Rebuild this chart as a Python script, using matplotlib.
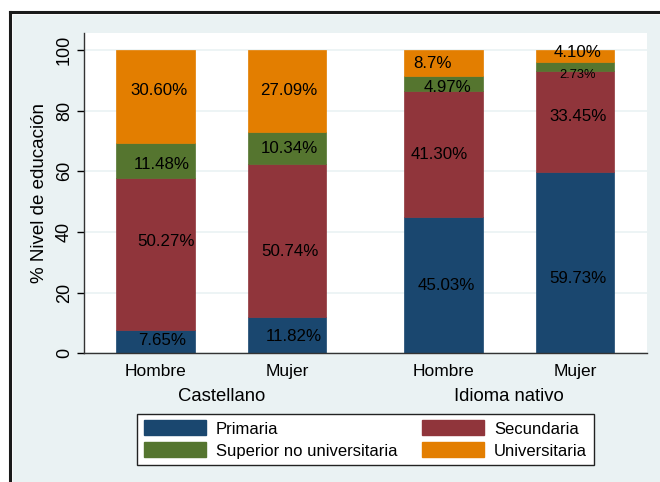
import matplotlib.pyplot as plt
import matplotlib.patches as mpatches
from matplotlib.lines import Line2D
import numpy as np

plt.rcParams['font.family'] = ['Liberation Sans', 'DejaVu Sans']

grupos = ['Castellano', 'Idioma nativo']
sexos = ['Hombre', 'Mujer', 'Hombre', 'Mujer']
niveles = ['Primaria', 'Secundaria', 'Superior no universitaria', 'Universitaria']

primaria = [7.65, 11.82, 45.03, 59.73]
secundaria = [50.27, 50.74, 41.30, 33.45]
superior = [11.48, 10.34, 4.97, 2.73]
universitaria = [30.60, 27.09, 8.70, 4.10]

textos = [
    ['7.65%', '11.82%', '45.03%', '59.73%'],
    ['50.27%', '50.74%', '41.30%', '33.45%'],
    ['11.48%', '10.34%', '4.97%', '2.73%'],
    ['30.60%', '27.09%', '8.7%', '4.10%'],
]
# altura de cada etiqueta
pos_etiqueta = [
    [4.2, 5.7, 22.3, 24.5],
    [36.8, 33.5, 65.4, 78.0],
    [62.4, 67.4, 87.5, 91.8],
    [86.5, 86.5, 95.7, 99.3],
]
desp_etiqueta = [
    [0.05, 0.05, 0.02, 0.02],
    [0.08, 0.02, -0.03, 0.02],
    [0.05, 0.02, 0.03, 0.02],
    [0.03, 0.01, -0.08, 0.02],
]

colores = ['#1a476f', '#90353b', '#55752f', '#e37e00']
fondo = '#eaf2f3'

W, H = 660, 482
fig = plt.figure(figsize=(W / 100, H / 100), dpi=100)
fig.patch.set_facecolor('white')

# marco estilo Stata
fig.patches.append(mpatches.Rectangle((13 / W, 0), 1, 1 - 15 / H, transform=fig.transFigure,
                                      facecolor=fondo, edgecolor='none', zorder=-5))
fig.lines.append(Line2D([9.5 / W, 9.5 / W], [0, 1 - 12 / H], transform=fig.transFigure,
                        color='#1a1a1a', linewidth=2.2, zorder=-4))
fig.lines.append(Line2D([9.5 / W, 1], [1 - 12 / H, 1 - 12 / H], transform=fig.transFigure,
                        color='#1a1a1a', linewidth=2.2, zorder=-4))

ax = fig.add_axes([84 / W, 1 - 353.3 / H, (647 - 84) / W, (353.3 - 33.3) / H])
ax.set_zorder(1)
ax.set_facecolor('white')

gap = 0.19
x = np.array([0, 1, 2 + gap, 3 + gap])
series = [primaria, secundaria, superior, universitaria]

base = np.zeros(4)
for k, vals in enumerate(series):
    ax.bar(x, vals, bottom=base, width=0.6, color=colores[k], edgecolor=colores[k],
           linewidth=0.5, label=niveles[k], zorder=2)
    base += np.array(vals)

for k in range(4):
    for i in range(4):
        fs = 9.3 if textos[k][i] == '2.73%' else 12.2
        ax.text(x[i] + desp_etiqueta[k][i], pos_etiqueta[k][i], textos[k][i],
                ha='center', va='center', fontsize=fs, color='black', zorder=3)

ax.set_xlim(-0.5437, 3.7376)
ax.set_ylim(0, 105.5)
ax.set_yticks([0, 20, 40, 60, 80, 100])
ax.set_yticklabels(['0', '20', '40', '60', '80', '100'], rotation=90, va='center', fontsize=13)
ax.grid(axis='y', color=fondo, linewidth=1.2, zorder=0)
ax.set_axisbelow(True)
ax.set_xticks(x)
ax.set_xticklabels(sexos, fontsize=12.5)
ax.tick_params(axis='x', length=0, pad=8)
ax.tick_params(axis='y', length=5, width=1, pad=3)
ax.set_ylabel('% Nivel de educación', fontsize=13.5, labelpad=6)

for s in ['top', 'right']:
    ax.spines[s].set_visible(False)
for s in ['left', 'bottom']:
    ax.spines[s].set_color('#333333')
    ax.spines[s].set_linewidth(1)

# etiquetas de grupo
ax.text((x[0] + x[1]) / 2, -14.4, grupos[0], ha='center', va='center', fontsize=13.3)
ax.text((x[2] + x[3]) / 2, -14.4, grupos[1], ha='center', va='center', fontsize=13.3)

handles = [mpatches.Patch(color=c) for c in colores]
orden = [0, 2, 1, 3]
leg = fig.legend([handles[i] for i in orden], [niveles[i] for i in orden], ncol=2,
                 loc='center', bbox_to_anchor=((138 + 593) / 2 / W, 1 - (413 + 466) / 2 / H),
                 fontsize=12, frameon=True, fancybox=False, framealpha=1, handlelength=3.7,
                 handleheight=1.0, handletextpad=0.6, columnspacing=1.5,
                 labelspacing=0.35, borderpad=0.4, borderaxespad=0)
leg.get_frame().set_edgecolor('#222222')
leg.get_frame().set_linewidth(1)
leg.get_frame().set_facecolor('white')

fig.savefig('out.png', dpi=100)
